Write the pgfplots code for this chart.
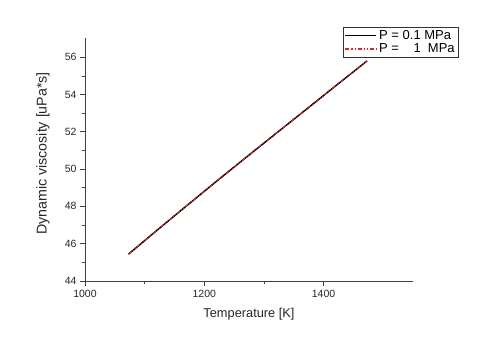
\documentclass[border=0pt]{standalone}
\usepackage{fontspec}
\setmainfont{Liberation Sans}
\usepackage{pgfplots}
\pgfplotsset{compat=1.18}
\definecolor{myred}{RGB}{220,40,40}
\begin{document}
\begin{tikzpicture}[x=1pt,y=1pt]
\path (0,0) rectangle (480,337);
\begin{axis}[
  at={(85pt,56pt)}, anchor=south west,
  scale only axis, width=328pt, height=242.5pt,
  xmin=1000, xmax=1550, ymin=44, ymax=57,
  axis lines=left, axis line style={-, line width=0.6pt, color=black!75},
  xtick={1000,1200,1400}, ytick={44,46,...,56},
  minor x tick num=1, minor y tick num=1,
  tick align=outside, major tick length=5pt, minor tick length=3pt,
  tick style={line width=0.6pt, color=black!75},
  /pgf/number format/assume math mode=true,
  /pgf/number format/1000 sep={},
  ticklabel style={font=\fontsize{10.5}{12}\selectfont, color=black!85},
  xticklabel style={yshift=-1pt},
  xlabel={Temperature [K]},
  ylabel={Dynamic viscosity [uPa*s]},
  xlabel style={at={(axis description cs:0.5,-0.136)}, anchor=center, font=\fontsize{12.8}{14}\selectfont, color=black!85},
  ylabel style={at={(axis description cs:-0.128,0.526)}, anchor=center, rotate=0, font=\fontsize{14.2}{16}\selectfont, color=black!85},
  legend style={at={(axis description cs:1.137,1.047)}, anchor=north east,
    draw=black!80, font=\fontsize{13}{14}\selectfont,
    inner sep=1pt, row sep=-1pt, cells={anchor=west}},
  legend image code/.code={\draw[#1] (0pt,0pt) -- (31pt,0pt);},
  clip=false,
]
\addplot[black, line width=1.5pt, legend image post style={black, line width=1.8pt, solid}] coordinates {
(1073,45.44) (1123,46.78) (1173,48.10) (1223,49.41) (1273,50.70)
(1323,51.98) (1373,53.25) (1423,54.53) (1473,55.80)
};
\addlegendentry{P = 0.1 MPa}
\addplot[myred, line width=1pt, dash pattern=on 4pt off 1.5pt on 1pt off 1.5pt on 1pt off 1.5pt,
  legend image post style={myred, line width=1.2pt, dash pattern=on 4pt off 2pt on 1.2pt off 2pt on 1.2pt off 2pt}] coordinates {
(1073,45.44) (1123,46.78) (1173,48.10) (1223,49.41) (1273,50.70)
(1323,51.98) (1373,53.25) (1423,54.53) (1473,55.80)
};
\addlegendentry{P = \hphantom{0.}1\ \ MPa}
\end{axis}
\end{tikzpicture}
\end{document}
